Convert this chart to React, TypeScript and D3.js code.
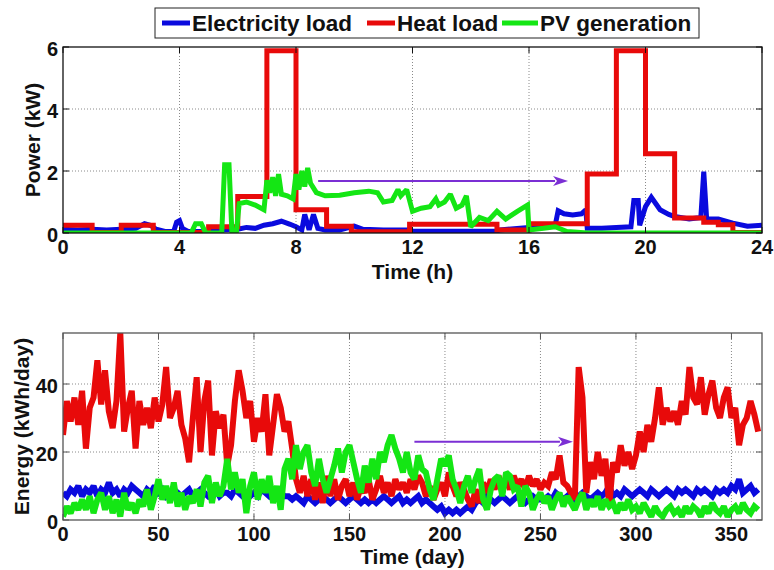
import React from 'react';
import * as d3 from 'd3';

// ---------- axes ----------
const hourTicks = [0, 4, 8, 12, 16, 20, 24];
const powerTicks = [0, 2, 4, 6];
const dayTicks = [0, 50, 100, 150, 200, 250, 300, 350];
const energyTicks = [0, 20, 40];

const legendLabels = ['Electricity load', 'Heat load', 'PV generation'];
const seriesColors = ['#0a0ade', '#e80a0a', '#14e614'];
const arrowColor = '#7b2fd4';

// ---------- top: daily profile (h, kW) ----------
const elecTimes = [0, 0.5, 1.0, 1.5, 2.0, 2.5, 2.8, 3.0, 3.2, 3.5, 3.8, 3.9, 4.0, 4.1, 4.3, 5.0, 5.5, 6.0, 6.3, 6.6, 6.9, 7.2, 7.5, 7.8, 8.0, 8.2, 8.3, 8.45, 8.6, 8.75, 9.0, 9.5, 10.0, 10.3, 11.0, 11.9, 12.0, 14.9, 15.0, 16.0, 16.5, 16.9, 17.0, 17.2, 17.5, 17.8, 17.95, 18.0, 18.5, 19.0, 19.5, 19.6, 19.75, 19.8, 20.0, 20.2, 20.5, 20.8, 21.0, 21.5, 21.9, 22.0, 22.1, 22.5, 23.0, 23.5, 24.0];
const elecValues = [0.12, 0.1, 0.12, 0.1, 0.12, 0.15, 0.3, 0.25, 0.12, 0.05, 0.05, 0.35, 0.4, 0.15, 0.05, 0.05, 0.1, 0.12, 0.18, 0.15, 0.25, 0.3, 0.38, 0.28, 0.2, 0.1, 0.6, 0.1, 0.6, 0.15, 0.1, 0.1, 0.22, 0.12, 0.1, 0.1, 0.06, 0.06, 0.1, 0.18, 0.2, 0.25, 0.72, 0.62, 0.58, 0.62, 0.75, 0.15, 0.15, 0.18, 0.2, 1.05, 1.05, 0.25, 0.85, 1.15, 0.75, 0.6, 0.53, 0.45, 0.5, 1.98, 0.45, 0.45, 0.32, 0.22, 0.25];

const heatTimes = [0, 1, 2, 3.1, 5, 6, 7, 8, 9.05, 9.9, 11.9, 14.9, 16, 18, 19, 20, 21, 22, 22.5, 23, 24];
const heatValues = [0.25, 0.02, 0.25, 0.02, 0.2, 1.18, 5.88, 0.75, 0.22, 0.04, 0.28, 0.1, 0.3, 1.9, 5.88, 2.56, 0.48, 0.35, 0.27, 0.02, 0.02];

const pvTimes = [0, 4.4, 4.55, 4.75, 4.9, 5.45, 5.55, 5.7, 5.8, 5.95, 6.05, 6.3, 6.6, 6.9, 7.0, 7.1, 7.2, 7.3, 7.4, 7.5, 7.7, 7.9, 8.0, 8.1, 8.2, 8.3, 8.4, 8.5, 8.7, 9.0, 9.5, 10.0, 10.5, 10.8, 11.0, 11.3, 11.5, 11.6, 11.8, 12.0, 12.3, 12.6, 12.8, 12.9, 13.1, 13.3, 13.5, 13.7, 13.85, 14.0, 14.3, 14.6, 14.9, 15.2, 15.6, 15.95, 16.0, 16.5, 16.9, 17.3, 18.0, 24.0];
const pvValues = [0, 0, 0.3, 0.3, 0, 0, 2.2, 2.2, 0, 0, 0.95, 1.0, 0.9, 0.75, 1.7, 1.3, 1.8, 1.2, 1.9, 1.25, 1.2, 1.1, 1.9, 1.4, 2.0, 1.5, 2.1, 1.6, 1.3, 1.2, 1.22, 1.3, 1.35, 1.3, 1.0, 1.05, 1.4, 1.2, 1.4, 0.7, 0.8, 0.85, 1.1, 0.9, 1.0, 1.25, 0.8, 0.9, 1.2, 0.2, 0.5, 0.4, 0.7, 0.45, 0.7, 0.9, 0.1, 0.15, 0.2, 0.05, 0, 0];

// ---------- bottom: yearly daily energy (kWh/day), every 2nd day ----------
const days = d3.range(0, 365, 2);
const elecDaily = [
  8, 7, 9, 8, 10, 7, 9, 8, 10, 7, 9, 8, 11, 8, 9, 7, 9, 8, 10, 9, 8, 7, 9, 8, 10, 8, 9, 7, 8, 9,
  8, 7, 8, 9, 7, 8, 9, 8, 7, 8, 9, 7, 8, 8, 7, 9, 8, 7, 8, 7, 8, 7, 9, 8, 7, 8, 7, 8, 7, 7,
  6, 7, 6, 5, 7, 6, 5, 6, 7, 6, 5, 6, 7, 6, 5, 6, 7, 6, 5, 6, 5, 6, 5, 6, 7, 6, 5, 6, 7, 5, 6, 5, 6, 7, 5, 6, 5,
  4, 3, 4, 2, 3, 2, 3, 2, 3, 4, 3,
  5, 6, 5, 7, 6, 5, 6, 7, 6, 5, 6, 7, 6, 5, 6, 7, 6, 6,
  6, 7, 6, 8, 7, 6, 7, 8, 6, 7, 8, 7, 6, 7, 8, 7, 8, 10,
  7, 8, 7, 9, 8, 7, 8, 9, 8, 7, 9, 8, 7, 8, 9, 8, 7, 9, 8, 9, 8, 7, 9, 8, 9, 8, 7, 9, 8, 9, 8, 10, 9, 12, 8, 9, 10, 8, 9];
const heatDaily = [
  25, 35, 29, 36, 28, 38, 21, 33, 36, 47, 34, 44, 32, 27, 35, 55, 26, 33, 38, 21,
  35, 28, 33, 27, 36, 29, 34, 45, 30, 33, 38, 28, 24, 17, 30, 42, 20, 35, 41, 19,
  32, 27, 31, 16, 22, 35, 44, 38, 30, 35, 23, 30, 26, 37, 19, 28, 37, 33, 26, 29,
  21, 12, 8, 13, 7, 12, 6, 11, 5, 13, 7, 12, 6, 10, 12, 7, 11, 6, 10, 8,
  12, 6, 9, 13, 8, 11, 7, 12, 9, 11, 8, 12, 9, 13, 11, 7, 10, 6, 9, 11,
  7, 14, 10, 7, 11, 9, 6, 4, 9, 5, 11, 8, 12, 9, 13, 10, 12, 9, 13, 10,
  12, 9, 13, 10, 12, 9, 11, 10, 14, 12, 19, 11, 10, 8, 6, 45, 36, 8, 17, 12,
  20, 13, 18, 4, 17, 14, 22, 16, 20, 15, 19, 26, 20, 28, 23, 30, 39, 28, 33, 29,
  32, 28, 35, 31, 45, 36, 34, 42, 31, 37, 41, 33, 30, 36, 39, 30, 33, 22, 28, 30,
  35, 31, 26];
const pvDaily = [
  1, 4, 2, 5, 3, 6, 3, 7, 2, 6, 8, 3, 7, 2, 6, 1, 8, 3, 5, 2, 6, 4, 9, 3, 7, 12, 6, 10, 5, 11,
  4, 8, 3, 7, 5, 9, 4, 11, 13, 5, 11, 7, 10, 18, 9, 14, 8, 12, 2, 10, 14, 6, 12, 8, 13, 5, 10, 3, 15, 18,
  12, 22, 15, 20, 22, 14, 10, 18, 12, 8, 12, 16, 21, 14, 20, 22, 17, 12, 8, 16, 11, 18, 12, 20, 17, 22, 25, 21, 18, 14,
  20, 14, 12, 19, 15, 14, 9, 6, 12, 18, 16, 19, 12, 9, 5, 10, 13, 8, 12, 15, 6, 3, 9, 12, 13, 7, 14, 13, 9, 10,
  4, 10, 8, 3, 6, 8, 5, 7, 3, 6, 8, 4, 7, 5, 3, 6, 8, 3, 6, 4, 7, 3, 6, 4, 5, 2, 5, 3, 6, 3,
  4, 2, 5, 3, 1, 4, 2, 1, 3, 4, 2, 3, 1, 4, 2, 4, 3, 1, 4, 2, 5, 3, 2, 4, 1, 3, 4, 2, 5, 3, 2, 4, 3];

// annotation arrows (data units)
const topArrowX = [8.76, 17.34];
const topArrowY = 1.68;
const bottomArrowX = [184, 267];
const bottomArrowY = 23;

const FONT = "'Liberation Sans', Arial, Helvetica, sans-serif";

type PanelProps = {
  id: string;
  left: number; right: number; top: number; bottom: number;
  xDomain: [number, number]; yDomain: [number, number];
  xTicks: number[]; yTicks: number[];
  xLabel: string; yLabel: string; yLabelX: number; xLabelY: number; tickLabelY: number;
  frame: string; lineWidth: number;
  series: { xs: number[]; ys: number[]; color: string; step?: boolean }[];
  arrowX: number[]; arrowY: number;
};

function Panel(p: PanelProps) {
  const x = d3.scaleLinear().domain(p.xDomain).range([p.left, p.right]);
  const y = d3.scaleLinear().domain(p.yDomain).range([p.bottom, p.top]);
  const clipId = 'clip-' + p.id;
  const ax0 = x(p.arrowX[0]);
  const ax1 = x(p.arrowX[1]);
  const ay = y(p.arrowY);
  const headL = 15, headW = 5;
  return (
    <g>
      <defs>
        <clipPath id={clipId}>
          <rect x={p.left} y={p.top} width={p.right - p.left} height={p.bottom - p.top} />
        </clipPath>
      </defs>
      <rect x={p.left} y={p.top} width={p.right - p.left} height={p.bottom - p.top} fill="#fff" />
      {p.xTicks.filter(t => x(t) > p.left + 1 && x(t) < p.right - 1).map(t => (
        <line key={'gx' + t} x1={x(t)} x2={x(t)} y1={p.top} y2={p.bottom} stroke="#8a8a8a" strokeWidth={1} strokeDasharray="1,2" />
      ))}
      {p.yTicks.filter(t => y(t) > p.top + 1 && y(t) < p.bottom - 1).map(t => (
        <line key={'gy' + t} x1={p.left} x2={p.right} y1={y(t)} y2={y(t)} stroke="#8a8a8a" strokeWidth={1} strokeDasharray="1,2" />
      ))}
      <g clipPath={`url(#${clipId})`}>
        {p.series.map((s, i) => {
          const gen = d3.line<number>()
            .x((_, k) => x(s.xs[k]))
            .y(v => y(v))
            .curve(s.step ? d3.curveStepAfter : d3.curveLinear);
          return <path key={i} d={gen(s.ys) || ''} fill="none" stroke={s.color} strokeWidth={p.lineWidth} strokeLinejoin="miter" strokeMiterlimit={2} />;
        })}
        <line x1={ax0} x2={ax1 - headL + 2} y1={ay} y2={ay} stroke={arrowColor} strokeWidth={2} />
        <path d={`M${ax1},${ay} L${ax1 - headL},${ay - headW} L${ax1 - headL + 4},${ay} L${ax1 - headL},${ay + headW} Z`} fill={arrowColor} />
      </g>
      <rect x={p.left} y={p.top} width={p.right - p.left} height={p.bottom - p.top} fill="none" stroke={p.frame} strokeWidth={1.3} />
      {p.xTicks.map(t => (
        <g key={'tx' + t}>
          <line x1={x(t)} x2={x(t)} y1={p.bottom} y2={p.bottom - 6} stroke={p.frame} />
          <line x1={x(t)} x2={x(t)} y1={p.top} y2={p.top + 6} stroke={p.frame} />
        </g>
      ))}
      {p.yTicks.map(t => (
        <g key={'ty' + t}>
          <line x1={p.left} x2={p.left + 6} y1={y(t)} y2={y(t)} stroke={p.frame} />
          <line x1={p.right} x2={p.right - 6} y1={y(t)} y2={y(t)} stroke={p.frame} />
        </g>
      ))}
      {p.xTicks.map(t => (
        <text key={'lx' + t} x={x(t)} y={p.tickLabelY} textAnchor="middle" fontFamily={FONT} fontWeight="bold" fontSize={20} fill="#111">{t}</text>
      ))}
      {p.yTicks.map(t => (
        <text key={'ly' + t} x={p.left - 5} y={y(t) + 9} textAnchor="end" fontFamily={FONT} fontWeight="bold" fontSize={20} fill="#111">{t}</text>
      ))}
      <text x={(p.left + p.right) / 2} y={p.xLabelY} textAnchor="middle" fontFamily={FONT} fontWeight="bold" fontSize={21} fill="#111">{p.xLabel}</text>
      <text transform={`translate(${p.yLabelX},${(p.top + p.bottom) / 2}) rotate(-90)`} textAnchor="middle" fontFamily={FONT} fontWeight="bold" fontSize={21} fill="#111">{p.yLabel}</text>
    </g>
  );
}

export default function App() {
  const legendItems = [
    { x1: 162, x2: 190, tx: 192 },
    { x1: 367, x2: 395, tx: 397 },
    { x1: 502, x2: 538, tx: 540 },
  ];
  return (
    <svg width={774} height={570} viewBox="0 0 774 570" style={{ position: 'absolute', left: 0, top: 0, background: '#fff' }}>
      <rect x={0} y={0} width={774} height={570} fill="#fff" />
      <Panel
        id="top" left={63} right={762} top={47} bottom={233}
        xDomain={[0, 24]} yDomain={[0, 6]} xTicks={hourTicks} yTicks={powerTicks}
        xLabel="Time (h)" yLabel="Power (kW)" yLabelX={40} xLabelY={279} tickLabelY={254}
        frame="#111" lineWidth={5}
        series={[
          { xs: elecTimes, ys: elecValues, color: seriesColors[0] },
          { xs: heatTimes, ys: heatValues, color: seriesColors[1], step: true },
          { xs: pvTimes, ys: pvValues, color: seriesColors[2] },
        ]}
        arrowX={topArrowX} arrowY={topArrowY}
      />
      <Panel
        id="bottom" left={63} right={762} top={333} bottom={520}
        xDomain={[0, 366]} yDomain={[0, 55]} xTicks={dayTicks} yTicks={energyTicks}
        xLabel="Time (day)" yLabel="Energy (kWh/day)" yLabelX={29} xLabelY={564} tickLabelY={541}
        frame="#555" lineWidth={6}
        series={[
          { xs: days, ys: elecDaily, color: seriesColors[0] },
          { xs: days, ys: heatDaily, color: seriesColors[1] },
          { xs: days, ys: pvDaily, color: seriesColors[2] },
        ]}
        arrowX={bottomArrowX} arrowY={bottomArrowY}
      />
      <rect x={155} y={8} width={544} height={30} fill="#fff" stroke="#222" strokeWidth={1} />
      {legendItems.map((it, i) => (
        <g key={i}>
          <line x1={it.x1} x2={it.x2} y1={23} y2={23} stroke={seriesColors[i]} strokeWidth={5} />
          <text x={it.tx} y={31} fontFamily={FONT} fontWeight="bold" fontSize={22.5} fill="#111">{legendLabels[i]}</text>
        </g>
      ))}
    </svg>
  );
}
